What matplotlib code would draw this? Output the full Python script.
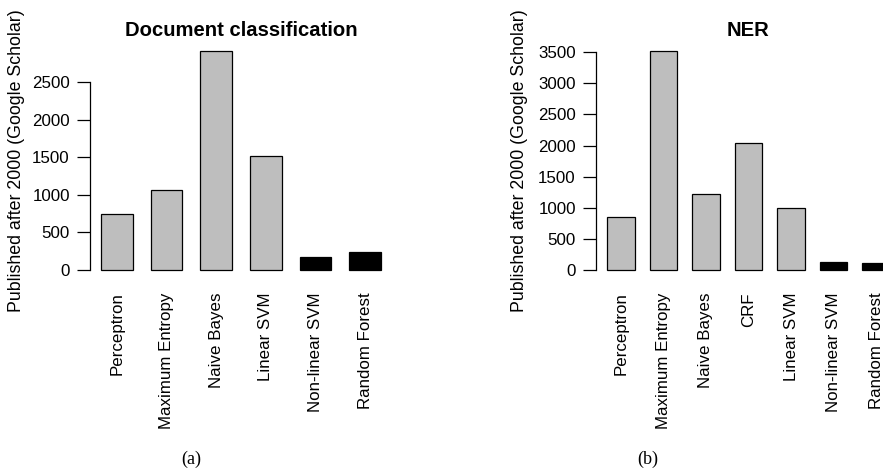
import matplotlib
matplotlib.use("Agg")
import matplotlib.pyplot as plt

# Datos de las dos gráficas (publicaciones después de 2000, Google Scholar)
doc_methods = ["Perceptron", "Maximum Entropy", "Naive Bayes", "Linear SVM",
               "Non-linear SVM", "Random Forest"]
doc_counts = [745, 1065, 2910, 1520, 170, 245]
doc_colors = ["#bebebe", "#bebebe", "#bebebe", "#bebebe", "black", "black"]
doc_yticks = [0, 500, 1000, 1500, 2000, 2500]

ner_methods = ["Perceptron", "Maximum Entropy", "Naive Bayes", "CRF",
               "Linear SVM", "Non-linear SVM", "Random Forest"]
ner_counts = [857, 3520, 1222, 2036, 992, 135, 108]
ner_colors = ["#bebebe", "#bebebe", "#bebebe", "#bebebe", "#bebebe", "black", "black"]
ner_yticks = [0, 500, 1000, 1500, 2000, 2500, 3000, 3500]

ylab = "Published after 2000 (Google Scholar)"

plt.rcParams["font.family"] = ["Liberation Sans", "DejaVu Sans"]

W, H = 883, 475
fig = plt.figure(figsize=(W / 100, H / 100), dpi=100)


def panel(rect_px, methods, counts, colors, yticks, xpad, title, ylab_x, sub, sub_x):
    """Dibuja una gráfica de barras al estilo de R base."""
    left, right, top, bottom = rect_px
    ax = fig.add_axes([left / W, 1 - bottom / H, (right - left) / W, (bottom - top) / H])
    x = list(range(len(methods)))
    ax.bar(x, counts, width=0.64, color=colors, edgecolor="black", linewidth=0.9)
    m = max(counts)
    ax.set_ylim(-0.04 * m, 1.04 * m)
    ax.set_xlim(-xpad, len(methods) - 1 + xpad)

    for s in ["top", "right", "bottom"]:
        ax.spines[s].set_visible(False)
    ax.spines["left"].set_bounds(yticks[0], yticks[-1])
    ax.spines["left"].set_linewidth(0.9)
    ax.set_yticks(yticks)
    ax.tick_params(axis="y", length=9.5, width=0.9, pad=5, labelsize=12.2)
    ax.set_xticks(x)
    ax.set_xticklabels(methods, rotation=90, va="top", ha="center", fontsize=12.2)
    ax.tick_params(axis="x", length=0, pad=10)

    ax.set_ylabel(ylab, fontsize=12.8, va="center")
    ax.yaxis.set_label_coords(ylab_x, 0.5)

    fig.text((left + right) / 2 / W, 1 - 31 / H, title, ha="center", va="center",
             fontsize=14.6, fontweight="bold")
    fig.text(sub_x / W, 1 - 459 / H, sub, ha="center", va="center",
             fontsize=13, family="Liberation Serif")
    return ax


panel((90, 392, 42.3, 278.7), doc_methods, doc_counts, doc_colors, doc_yticks,
      0.54, "Document classification", -73 / 302, "(a)", 191)
panel((596, 901, 42.3, 278.7), ner_methods, ner_counts, ner_colors, ner_yticks,
      0.588, "NER", -77 / 305, "(b)", 648)

fig.savefig("out.png", dpi=100)
